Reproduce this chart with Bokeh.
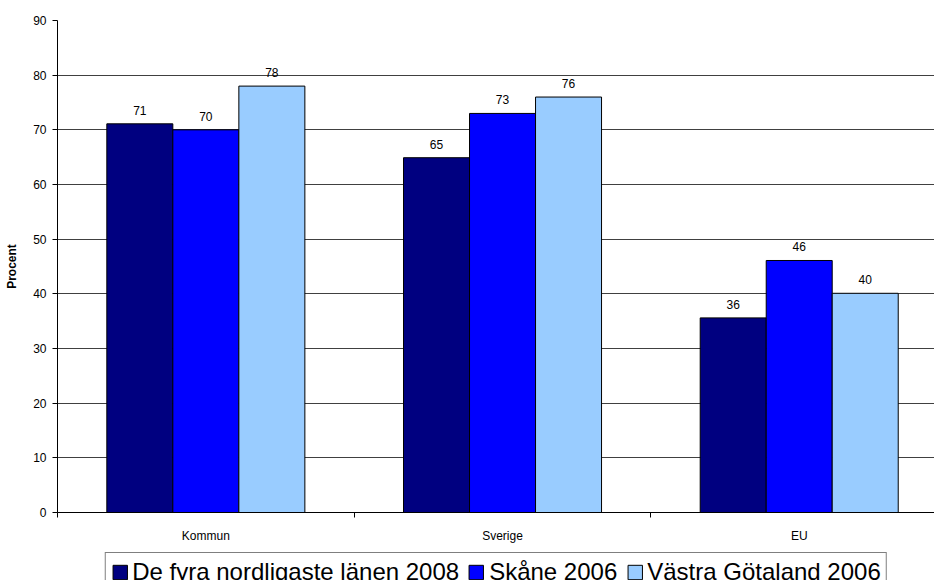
from bokeh.plotting import figure
from bokeh.layouts import column
from bokeh.models import Range1d, FixedTicker, Legend, LegendItem
from bokeh.embed import file_html
from bokeh.resources import INLINE
from bokeh.core.properties import value

# ---- data ----
categories = ["Kommun", "Sverige", "EU"]
series_names = ["De fyra nordligaste länen 2008", "Skåne 2006", "Västra Götaland 2006"]
north_2008 = [71.1, 64.9, 35.6]
skane_2006 = [70.0, 73.0, 46.1]
vgotaland_2006 = [78.0, 76.0, 40.1]
y_ticks = [0, 10, 20, 30, 40, 50, 60, 70, 80, 90]

series_values = [north_2008, skane_2006, vgotaland_2006]
colors = ["#000080", "#0000FF", "#99CCFF"]
FONT = "Liberation Sans"

p = figure(width=934, height=546,
           x_range=Range1d(0, 2.956), y_range=Range1d(0, 90),
           output_backend="svg", toolbar_location=None,
           min_border_left=57, min_border_right=0,
           min_border_top=20, min_border_bottom=34)
p.outline_line_color = None
p.background_fill_color = "white"

# grid (0 line is covered by the axis)
p.xgrid.visible = False
p.ygrid.ticker = FixedTicker(ticks=[t for t in y_ticks if t > 0])
p.ygrid.grid_line_color = "#404040"
p.ygrid.grid_line_width = 1

bar_w = 0.2225
offsets = [-bar_w, 0.0, bar_w]
for vals, col, off in zip(series_values, colors, offsets):
    xs = [i + 0.5 + off for i in range(len(categories))]
    p.vbar(x=xs, top=vals, bottom=0, width=bar_w,
           fill_color=col, line_color="black", line_width=1)
    p.text(x=xs, y=vals, text=[str(round(v)) for v in vals],
           text_align="center", text_baseline="bottom", y_offset=-9,
           text_font=value(FONT), text_font_size="12px", text_color="black")

# y axis
yax = p.yaxis[0]
yax.ticker = FixedTicker(ticks=y_ticks)
yax.axis_line_color = "black"
yax.major_tick_line_color = "black"
yax.major_tick_out = 5
yax.major_tick_in = 0
yax.minor_tick_line_color = None
yax.major_label_standoff = 6
yax.major_label_text_font = FONT
yax.major_label_text_font_size = "12px"
yax.major_label_text_color = "black"
yax.axis_label = "Procent"
yax.axis_label_text_font = FONT
yax.axis_label_text_font_size = "12px"
yax.axis_label_text_font_style = "bold"
yax.axis_label_text_color = "black"
yax.axis_label_standoff = 11

# x axis
xax = p.xaxis[0]
xax.ticker = FixedTicker(ticks=[0.5, 1.5, 2.5], minor_ticks=[0, 1, 2, 3])
xax.major_label_overrides = {0.5: categories[0], 1.5: categories[1], 2.5: categories[2]}
xax.axis_line_color = "black"
xax.major_tick_line_color = None
xax.major_tick_out = 0
xax.major_tick_in = 0
xax.minor_tick_line_color = "black"
xax.minor_tick_out = 5
xax.minor_tick_in = 0
xax.major_label_standoff = 11
xax.major_label_text_font = FONT
xax.major_label_text_font_size = "12px"
xax.major_label_text_color = "black"

# ---- legend strip below the chart ----
lg = figure(width=934, height=34,
            x_range=Range1d(0, 1), y_range=Range1d(0, 1),
            output_backend="svg", toolbar_location=None,
            min_border_left=57, min_border_right=0,
            min_border_top=0, min_border_bottom=0)
lg.outline_line_color = None
lg.xaxis.visible = False
lg.yaxis.visible = False
lg.xgrid.visible = False
lg.ygrid.visible = False
# legend swatches only: placeholder glyphs kept below the visible range
legend_renderers = [lg.vbar(x=[0.5], top=[-2], bottom=[-3], width=0.1,
                            fill_color=c, line_color="black", line_width=1)
                    for c in colors]
legend = Legend(items=[LegendItem(label=n, renderers=[r]) for n, r in zip(series_names, legend_renderers)],
                location="top_center", orientation="horizontal",
                border_line_color="black", border_line_width=1,
                background_fill_color="white", background_fill_alpha=1,
                padding=5, spacing=8, label_standoff=4, margin=6,
                glyph_width=18, glyph_height=18,
                label_text_font=FONT, label_text_font_size="24px",
                label_text_color="black")
lg.add_layout(legend)

layout = column(p, lg, spacing=0)
open("out.html", "w").write(file_html(layout, INLINE))
